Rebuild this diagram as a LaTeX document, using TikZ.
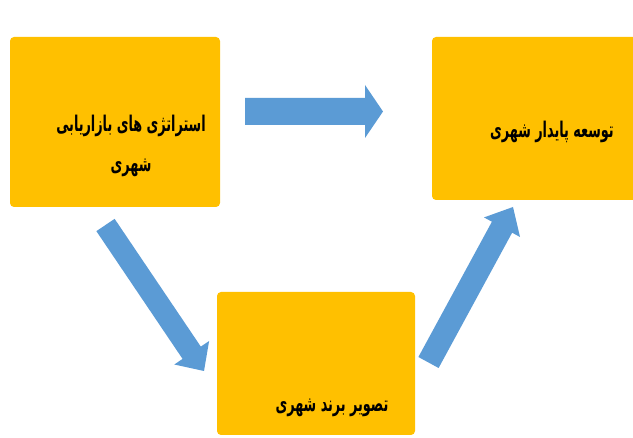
\documentclass[tikz,border=0pt]{standalone}
\usepackage{fontspec}
\usepackage{graphicx}
\newfontfamily\arabicfont[Script=Arabic]{DejaVu Sans}
\TeXXeTstate=1
\usetikzlibrary{calc}
\definecolor{boxgold}{HTML}{FFC000}
\definecolor{arrowblue}{HTML}{5B9BD5}
% block arrow from #1 to #2: shaft half-width #3, head half-width #4, head length #5
\newcommand\fablockarrow[5]{%
  \fill[arrowblue]
    ($(#1)!#3!90:(#2)$) --
    ($($(#2)!#5!(#1)$)!#3!-90:(#1)$) --
    ($($(#2)!#5!(#1)$)!#4!-90:(#1)$) --
    (#2) --
    ($($(#2)!#5!(#1)$)!#4!90:(#1)$) --
    ($($(#2)!#5!(#1)$)!#3!90:(#1)$) --
    ($(#1)!#3!-90:(#2)$) -- cycle;}
\newcommand\fatxt[1]{\scalebox{0.8}[1.35]{\beginR #1\endR}}
\begin{document}
\begin{tikzpicture}[x=1pt,y=-1pt,
  goldbox/.style={fill=boxgold, rounded corners=4pt, inner sep=0pt, draw=none},
  fatext/.style={font=\arabicfont\bfseries\fontsize{16}{40}\selectfont, text=black, align=center, inner sep=0pt}]
\useasboundingbox (0,0) rectangle (633,438);
\fill[white] (0,0) rectangle (633,438);
% boxes
\node[goldbox, minimum width=210pt, minimum height=170pt] (b1) at (115,122) {};
\node[goldbox, minimum width=208pt, minimum height=163pt] (b2) at (536,118.5) {};
\node[goldbox, minimum width=198pt, minimum height=143pt] (b3) at (316,363.5) {};
% texts
\node[fatext] (t1) at (131,146) {\fatxt{استراتژی های بازاریابی}\\\fatxt{شهری}};
\node[fatext] (t2) at (552,132) {\fatxt{توسعه پایدار شهری}};
\node[fatext] (t3) at (332,408) {\fatxt{تصویر برند شهری}};
% arrow end points
\coordinate (h1) at (245,111.5);
\coordinate (h2) at (383,111.5);
\coordinate (d1) at (105.5,225);
\coordinate (d2) at (204,371);
\coordinate (u1) at (428.5,362.5);
\coordinate (u2) at (513,207);
\fablockarrow{h1}{h2}{13.5pt}{26.5pt}{18pt}
\fablockarrow{d1}{d2}{11pt}{21pt}{22pt}
\fablockarrow{u1}{u2}{11.5pt}{20.5pt}{23pt}
\end{tikzpicture}
\end{document}
